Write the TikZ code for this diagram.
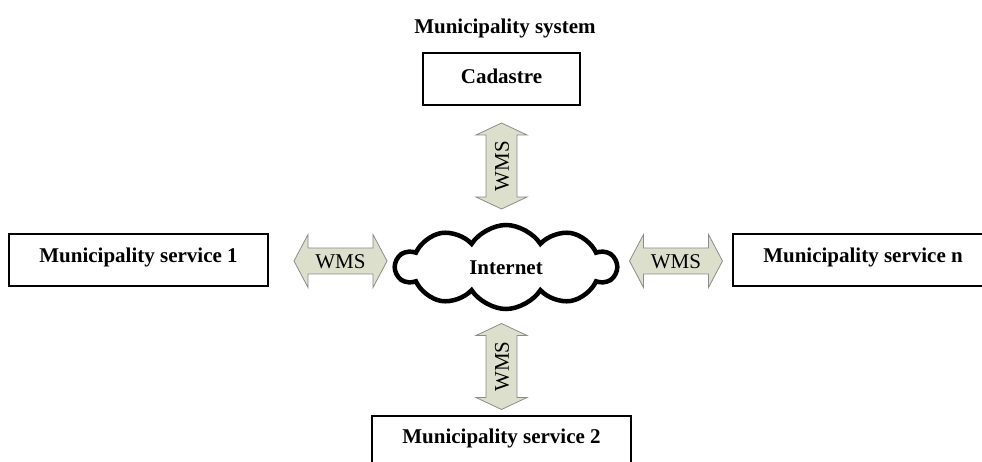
\documentclass[tikz,border=0pt]{standalone}
\usepackage{fontspec}
\setmainfont{Liberation Serif}
\usetikzlibrary{shapes.symbols}
\definecolor{wmsfill}{RGB}{221,223,205}
\definecolor{wmsline}{RGB}{140,140,140}
\tikzset{
  every node/.style={font=\fontsize{21}{24}\selectfont},
  sysbox/.style={draw=black, line width=1.4pt},
  boxlabel/.style={font=\fontsize{21}{24}\selectfont\bfseries},
  wmsarrow/.style={draw=wmsline, line width=0.8pt, fill=wmsfill, line join=miter},
  wmslabel/.style={font=\fontsize{21}{24}\selectfont, inner sep=0pt}
}
\begin{document}
\begin{tikzpicture}[x=1pt,y=-1pt]
\clip (0,0) rectangle (982,462);
\fill[white] (0,0) rectangle (982,462);

% title
\node[boxlabel] (title) at (505,28) {Municipality system};

% boxes
\draw[sysbox] (423,53) rectangle (580,105);
\node[boxlabel] (cad) at (501.5,76) {Cadastre};

\draw[sysbox] (9,234) rectangle (268,286);
\node[boxlabel] (ms1) at (138.5,257) {Municipality service 1};

\draw[sysbox] (733,234) rectangle (993,286);
\node[boxlabel] (msn) at (863,257) {Municipality service n};

\draw[sysbox] (372,416) rectangle (631,480);
\node[boxlabel] (ms2) at (501.5,438) {Municipality service 2};

% cloud
\node[cloud, draw=black, line width=4.5pt, cloud puffs=10, cloud puff arc=115,
      aspect=2.5, minimum width=220, minimum height=84, inner sep=0pt] (net) at (506,267) {};
\node[boxlabel] (nettext) at (506,268) {Internet};

% horizontal arrows (left and right)
\foreach \cx/\nm in {340.5/wl, 676/wr}{
  \begin{scope}[shift={(\cx,261)}]
    \draw[wmsarrow] (-46.5,0) -- (-32.5,-26.5) -- (-32.5,-13) -- (32.5,-13) -- (32.5,-26.5)
      -- (46.5,0) -- (32.5,26.5) -- (32.5,13) -- (-32.5,13) -- (-32.5,26.5) -- cycle;
    \node[wmslabel] (\nm) at (0,0.5) {WMS};
  \end{scope}
}

% vertical arrows (top and bottom)
\foreach \cy/\nm in {166/wt, 366.5/wb}{
  \begin{scope}[shift={(501.5,\cy)}]
    \draw[wmsarrow] (0,-43) -- (-25.5,-31) -- (-15.5,-31) -- (-15.5,31) -- (-25.5,31)
      -- (0,43) -- (25.5,31) -- (15.5,31) -- (15.5,-31) -- (25.5,-31) -- cycle;
    \node[wmslabel, rotate=90] (\nm) at (0.5,0) {WMS};
  \end{scope}
}
\end{tikzpicture}
\end{document}
